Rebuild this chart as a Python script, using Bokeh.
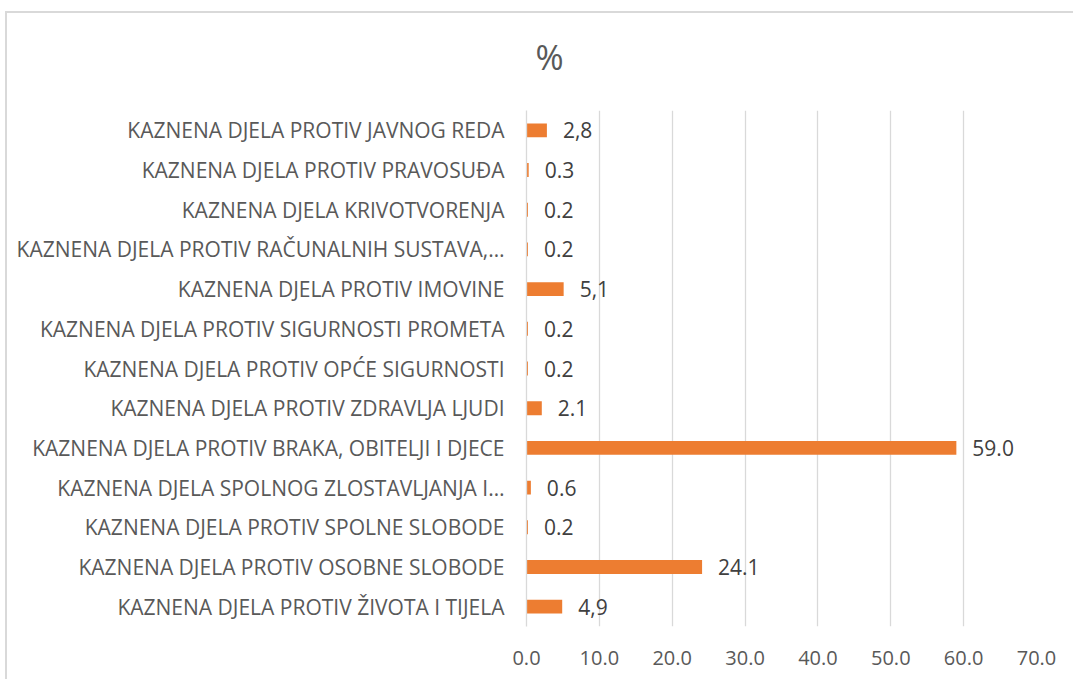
from bokeh.plotting import figure
from bokeh.models import ColumnDataSource, Range1d, FactorRange, Title, FixedTicker, CustomJSTickFormatter, InlineStyleSheet
from bokeh.core.properties import value
from bokeh.embed import file_html
from bokeh.resources import INLINE

# Data (top to bottom as shown)
categories = [
    "KAZNENA DJELA PROTIV JAVNOG REDA",
    "KAZNENA DJELA PROTIV PRAVOSUĐA",
    "KAZNENA DJELA KRIVOTVORENJA",
    "KAZNENA DJELA PROTIV RAČUNALNIH SUSTAVA,…",
    "KAZNENA DJELA PROTIV IMOVINE",
    "KAZNENA DJELA PROTIV SIGURNOSTI PROMETA",
    "KAZNENA DJELA PROTIV OPĆE SIGURNOSTI",
    "KAZNENA DJELA PROTIV ZDRAVLJA LJUDI",
    "KAZNENA DJELA PROTIV BRAKA, OBITELJI I DJECE",
    "KAZNENA DJELA SPOLNOG ZLOSTAVLJANJA I…",
    "KAZNENA DJELA PROTIV SPOLNE SLOBODE",
    "KAZNENA DJELA PROTIV OSOBNE SLOBODE",
    "KAZNENA DJELA PROTIV ŽIVOTA I TIJELA",
]
values = [2.8, 0.3, 0.2, 0.2, 5.1, 0.2, 0.2, 2.1, 59.0, 0.6, 0.2, 24.1, 4.9]
value_labels = ["2,8", "0.3", "0.2", "0.2", "5,1", "0.2", "0.2", "2.1", "59.0", "0.6", "0.2", "24.1", "4,9"]
x_ticks = [0, 10, 20, 30, 40, 50, 60, 70]

FONT = "Open Sans"

src = ColumnDataSource(dict(cat=categories, val=values, lbl=value_labels))

border_css = InlineStyleSheet(css="""
:host { position: relative; overflow: hidden; }
:host::after {
  content: ""; position: absolute; left: 5px; top: 11px; width: 1300px; height: 1000px;
  border-top: 2px solid #D9D9D9; border-left: 2px solid #D9D9D9;
  pointer-events: none; z-index: 100;
}
""")

p = figure(
    width=1073, height=679,
    y_range=FactorRange(factors=list(reversed(categories)), range_padding=0),
    x_range=Range1d(0, 70),
    output_backend="svg", toolbar_location=None,
    min_border_left=526, min_border_right=37, min_border_top=110, min_border_bottom=53,
    stylesheets=[border_css],
)
t = Title(text="%", text_font=FONT, text_font_size="34px", text_font_style="normal",
          text_color="#595959", align="left", offset=9, standoff=61)
p.add_layout(t, "above")

p.hbar(y="cat", right="val", left=0, height=0.35, source=src,
       fill_color="#ED7D31", line_color=None)
p.text(x="val", y="cat", text="lbl", source=src, x_offset=16,
       text_baseline="middle", text_align="left",
       text_font=value(FONT), text_font_size="21px", text_color="#404040")

p.outline_line_color = None
p.background_fill_color = "white"
p.border_fill_color = "white"

# grid
p.ygrid.grid_line_color = None
p.xgrid.grid_line_color = "#D9D9D9"
p.xgrid.grid_line_width = 1.3
p.xgrid.ticker = FixedTicker(ticks=x_ticks)

# x axis
p.xaxis.ticker = FixedTicker(ticks=x_ticks)
p.xaxis.formatter = CustomJSTickFormatter(code="return tick.toFixed(1);")
p.xaxis.axis_line_color = None
p.xaxis.major_tick_line_color = None
p.xaxis.minor_tick_line_color = None
p.xaxis.major_label_standoff = 18
p.xaxis.major_label_text_font = FONT
p.xaxis.major_label_text_font_size = "20px"
p.xaxis.major_label_text_color = "#595959"

# y axis
p.yaxis.axis_line_color = "#D9D9D9"
p.yaxis.axis_line_width = 1.3
p.yaxis.major_tick_line_color = None
p.yaxis.minor_tick_line_color = None
p.yaxis.major_label_standoff = 16
p.yaxis.major_label_text_font = FONT
p.yaxis.major_label_text_font_size = "21px"
p.yaxis.major_label_text_color = "#595959"

open("out.html", "w").write(file_html(p, INLINE))
